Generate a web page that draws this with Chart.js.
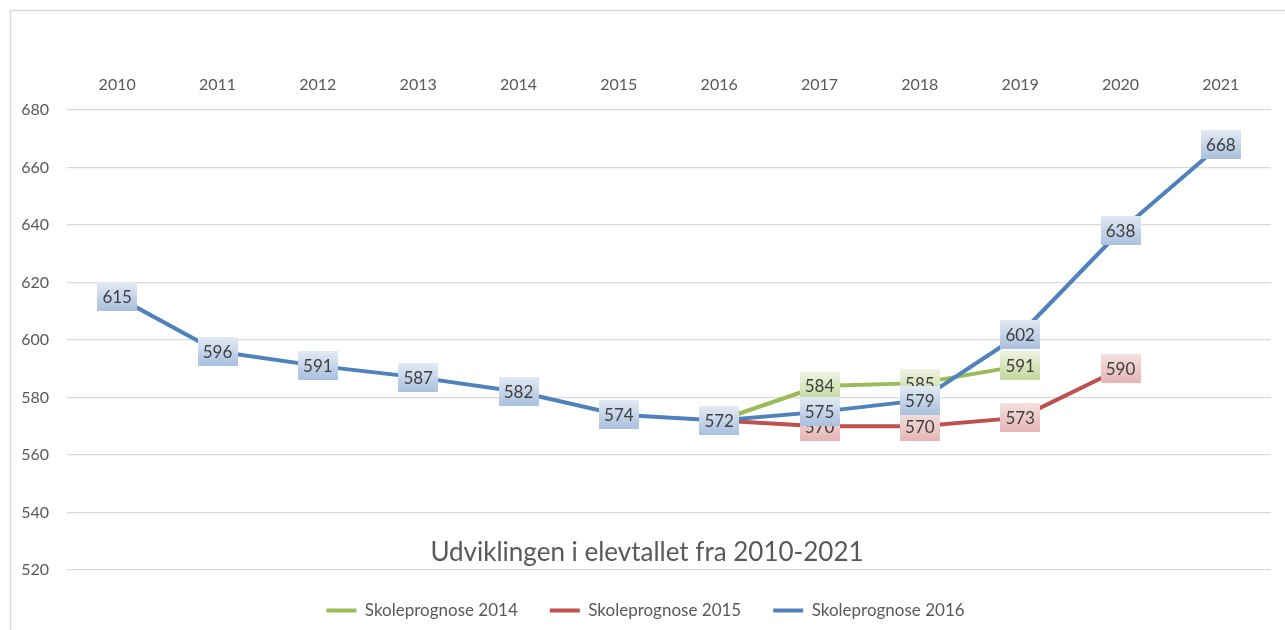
<!DOCTYPE html>
<html><head><meta charset="utf-8">
<script src="https://cdn.jsdelivr.net/npm/chart.js@4.4.0/dist/chart.umd.min.js"></script>
<style>html,body{margin:0;padding:0;background:#fff;}</style>
</head><body>
<canvas id="c" width="1285" height="630" style="display:block;width:1285px;height:630px"></canvas>
<script>
const years = ['2010','2011','2012','2013','2014','2015','2016','2017','2018','2019','2020','2021'];
const prognose2014 = [null,null,null,null,null,null,572,584,585,591,null,null];
const prognose2015 = [null,null,null,null,null,null,572,570,570,573,590,null];
const prognose2016 = [615,596,591,587,582,574,572,575,579,602,638,668];
const seriesNames = ['Skoleprognose 2014','Skoleprognose 2015','Skoleprognose 2016'];
const yMin = 520, yMax = 680, yStep = 20;
const chartTitle = 'Udviklingen i elevtallet fra 2010-2021';

const FONT = 'Lato, "Open Sans", sans-serif';

const framePlugin = {
  id: 'frame',
  beforeDraw(chart) {
    const ctx = chart.ctx;
    ctx.save();
    ctx.fillStyle = '#fff';
    ctx.fillRect(0, 0, chart.width, chart.height);
    ctx.strokeStyle = '#d9d9d9';
    ctx.lineWidth = 1.5;
    ctx.beginPath();
    ctx.moveTo(10.5, chart.height);
    ctx.lineTo(10.5, 10.5);
    ctx.lineTo(chart.width, 10.5);
    ctx.stroke();
    ctx.restore();
  }
};

const labelPlugin = {
  id: 'boxLabels',
  afterDatasetsDraw(chart) {
    const ctx = chart.ctx;
    ctx.save();
    chart.data.datasets.forEach((ds, i) => {
      const meta = chart.getDatasetMeta(i);
      meta.data.forEach((pt, j) => {
        const v = ds.data[j];
        if (v === null || v === undefined) return;
        const w = 40, h = 29;
        const x = Math.round(pt.x - w / 2), y = Math.round(pt.y - h / 2);
        const g = ctx.createLinearGradient(0, y, 0, y + h);
        g.addColorStop(0, ds.labelTop);
        g.addColorStop(1, ds.labelBottom);
        ctx.fillStyle = g;
        ctx.fillRect(x, y, w, h);
        ctx.fillStyle = '#404040';
        ctx.font = '17px ' + FONT;
        ctx.textAlign = 'center';
        ctx.textBaseline = 'middle';
        ctx.fillText(String(v), pt.x, pt.y + 1);
      });
    });
    ctx.restore();
  }
};

const titlePlugin = {
  id: 'innerTitle',
  afterDraw(chart) {
    const ctx = chart.ctx;
    const a = chart.chartArea;
    ctx.save();
    ctx.fillStyle = '#595959';
    ctx.font = '26px ' + FONT;
    ctx.textAlign = 'center';
    ctx.textBaseline = 'middle';
    ctx.fillText(chartTitle, (a.left + a.right) / 2 - 22, a.bottom - 17);
    ctx.restore();
  }
};

new Chart(document.getElementById('c'), {
  type: 'line',
  data: {
    labels: years,
    datasets: [
      { label: seriesNames[0], data: prognose2014, borderColor: '#9bbb59', labelTop: '#eef3e2', labelBottom: '#c4d79c', order: 3 },
      { label: seriesNames[1], data: prognose2015, borderColor: '#c0504d', labelTop: '#f4e0df', labelBottom: '#e4b6b5', order: 2 },
      { label: seriesNames[2], data: prognose2016, borderColor: '#4f81bd', labelTop: '#e2eaf4', labelBottom: '#a9c0de', order: 1 }
    ].map(d => Object.assign({ borderWidth: 4, pointRadius: 0, pointHoverRadius: 0, tension: 0, fill: false, borderJoinStyle: 'round', borderCapStyle: 'round', spanGaps: false }, d))
  },
  options: {
    responsive: false,
    animation: false,
    devicePixelRatio: 1,
    events: [],
    layout: { padding: { left: 20, top: 20, right: 14, bottom: 1 } },
    scales: {
      x: {
        type: 'category',
        position: 'top',
        offset: true,
        grid: { display: false, drawTicks: false },
        border: { display: false },
        ticks: { color: '#595959', font: { family: FONT, size: 16 }, padding: 16, maxRotation: 0, autoSkip: false },
        afterFit(s) { s.height = 90; }
      },
      y: {
        min: yMin, max: yMax,
        grid: { color: '#d9d9d9', lineWidth: 1.3, drawTicks: false },
        border: { display: false },
        ticks: { stepSize: yStep, color: '#595959', font: { family: FONT, size: 16 }, padding: 18 },
        afterFit(s) { s.width = 47; }
      }
    },
    plugins: {
      title: { display: false },
      tooltip: { enabled: false },
      legend: {
        position: 'bottom',
        labels: {
          boxWidth: 30, boxHeight: 4, padding: 32,
          color: '#595959',
          font: { family: FONT, size: 17 },
          generateLabels: chart => chart.data.datasets.map((ds, i) => ({
            text: ds.label, fillStyle: ds.borderColor, strokeStyle: ds.borderColor,
            lineWidth: 0, hidden: false, datasetIndex: i, fontColor: '#595959'
          }))
        }
      }
    }
  },
  plugins: [framePlugin, labelPlugin, titlePlugin]
});
</script>
</body></html>
